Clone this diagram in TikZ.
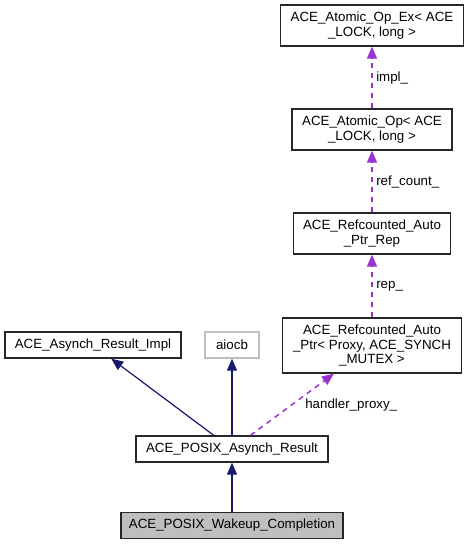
\documentclass[tikz,border=0pt]{standalone}
\usepackage{fontspec}
\setmainfont{Liberation Sans}
\usepackage{tikz}
\usetikzlibrary{arrows.meta}
\definecolor{edgeblue}{HTML}{191970}
\definecolor{edgepurple}{HTML}{9A32CD}
\definecolor{boxgray}{HTML}{BFBFBF}
\tikzset{
  cls/.style={draw=black!85, line width=1pt, align=center, inner sep=0pt,
    font=\fontsize{10}{11}\selectfont},
  inherit/.style={edgeblue, line width=0.9pt, -{Triangle[length=9pt,width=7.5pt]}},
  uses/.style={edgepurple, line width=1.1pt, dash pattern=on 4pt off 3.5pt,
    -{Triangle[length=9pt,width=7.5pt]}},
  lbl/.style={anchor=west, inner sep=0pt, font=\fontsize{10}{11}\selectfont}
}

\begin{document}
\begin{tikzpicture}[x=0.75pt,y=-0.75pt]
\useasboundingbox (0,0) rectangle (469,544);
% right column
\node[cls, minimum width=137.25pt, minimum height=30.75pt] (opex) at (372,25.5) {ACE\_Atomic\_Op\_Ex< ACE\\\_LOCK, long >};
\node[cls, minimum width=120pt, minimum height=30.75pt] (op) at (372,129.5) {ACE\_Atomic\_Op< ACE\\\_LOCK, long >};
\node[cls, minimum width=117.75pt, minimum height=30.75pt] (rep) at (372,233.5) {ACE\_Refcounted\_Auto\\\_Ptr\_Rep};
\node[cls, minimum width=134.25pt, minimum height=41.25pt] (ptr) at (372,345.5) {ACE\_Refcounted\_Auto\\\_Ptr< Proxy, ACE\_SYNCH\\\_MUTEX >};
% bases
\node[cls, minimum width=132pt, minimum height=19.5pt] (impl) at (93,345) {ACE\_Asynch\_Result\_Impl};
\node[cls, draw=boxgray, minimum width=40.5pt, minimum height=19.5pt] (aiocb) at (232,345) {aiocb};
\node[cls, minimum width=144pt, minimum height=19.5pt] (res) at (232,449) {ACE\_POSIX\_Asynch\_Result};
\node[cls, fill=boxgray, minimum width=166.5pt, minimum height=19.5pt] (wake) at (232,525.5) {ACE\_POSIX\_Wakeup\_Completion};
% edges
\draw[uses] (op) -- (opex);
\draw[uses] (rep) -- (op);
\draw[uses] (ptr) -- (rep);
\draw[uses] (res) -- (ptr);
\draw[inherit] (res) -- (impl);
\draw[inherit] (res) -- (aiocb);
\draw[inherit] (wake) -- (res);
\node[lbl] (limpl) at (376,78) {impl\_};
\node[lbl] (lref) at (376,182) {ref\_count\_};
\node[lbl] (lrep) at (376,286) {rep\_};
\node[lbl] (lproxy) at (305,405) {handler\_proxy\_};
\end{tikzpicture}
\end{document}
